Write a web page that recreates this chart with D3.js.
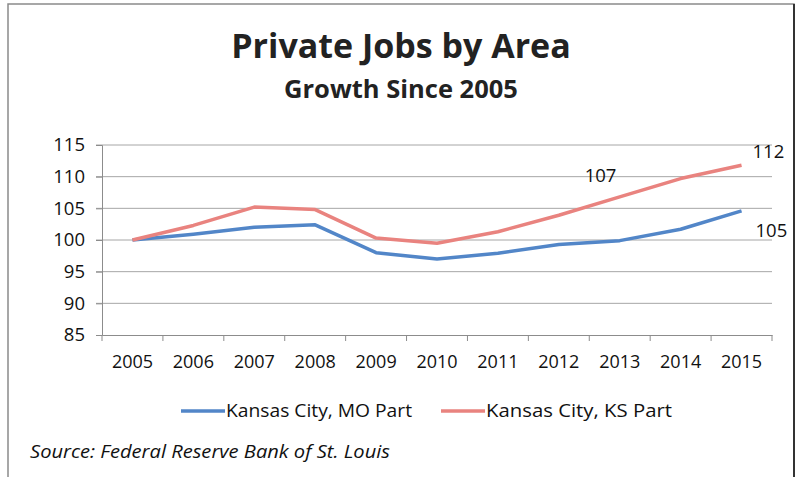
<!DOCTYPE html>
<html><head><meta charset="utf-8">
<script src="https://cdn.jsdelivr.net/npm/d3@7"></script>
<style>
html,body{margin:0;padding:0;background:#fff;}
svg{display:block;}
</style></head>
<body>
<svg id="chart" width="801" height="477"></svg>
<script>
const years = ["2005","2006","2007","2008","2009","2010","2011","2012","2013","2014","2015"];
const moPart = [100, 100.9, 102.0, 102.4, 98.0, 97.0, 97.9, 99.3, 99.9, 101.7, 104.6];
const ksPart = [100, 102.3, 105.2, 104.8, 100.3, 99.5, 101.3, 103.9, 106.8, 109.7, 111.8];
const yTicks = [85, 90, 95, 100, 105, 110, 115];
const seriesNames = ["Kansas City, MO Part", "Kansas City, KS Part"];
const callouts = [
  {series: 1, index: 10, text: "112"},
  {series: 1, index: 8, text: "107"},
  {series: 0, index: 10, text: "105"}
];

const colors = ["#5286c8", "#e9837f"];
const font = "'Open Sans', Lato, sans-serif";
const svg = d3.select("#chart");

// frame
svg.append("path").attr("d", "M8,480 L8,4 L794,4 L794,480")
  .attr("fill", "none").attr("stroke", "#8a8a8a").attr("stroke-width", 1.5);
svg.append("line").attr("x1", 794).attr("x2", 794).attr("y1", 4).attr("y2", 480)
  .attr("stroke", "#333").attr("stroke-width", 2);

const x = d3.scaleBand().domain(years).range([102, 772]);
const y = d3.scaleLinear().domain([85, 115]).range([335, 145]);

// gridlines
svg.append("g").selectAll("line").data(yTicks.filter(t => t > 85)).join("line")
  .attr("x1", 96).attr("x2", 772)
  .attr("y1", d => y(d)).attr("y2", d => y(d))
  .attr("stroke", "#a6a6a6").attr("stroke-width", 1);

// y axis
const yAxis = d3.axisLeft(y).tickValues(yTicks).tickSize(6).tickPadding(11);
const gy = svg.append("g").attr("transform", "translate(102,0)").call(yAxis);
gy.select(".domain").attr("stroke", "#8c8c8c");
gy.selectAll(".tick line").attr("stroke", "#8c8c8c");
gy.selectAll("text").attr("font-family", font).attr("font-size", 18.5).attr("fill", "#111");

// x axis
const xAxis = d3.axisBottom(x).tickSize(0).tickPadding(20);
const gx = svg.append("g").attr("transform", "translate(0,335)").call(xAxis);
gx.select(".domain").attr("stroke", "#8c8c8c");
gx.selectAll("text").attr("font-family", font).attr("font-size", 18).attr("fill", "#111");
// category boundary ticks
svg.append("g").selectAll("line").data(years.concat(["end"])).join("line")
  .attr("x1", (d, i) => 102 + i * x.step()).attr("x2", (d, i) => 102 + i * x.step())
  .attr("y1", 335).attr("y2", 341).attr("stroke", "#8c8c8c");

// lines
const line = d3.line().x((d, i) => x(years[i]) + x.bandwidth() / 2).y(d => y(d));
[moPart, ksPart].forEach((s, k) => {
  svg.append("path").datum(s).attr("d", line)
    .attr("fill", "none").attr("stroke", colors[k]).attr("stroke-width", 3.5)
    .attr("stroke-linejoin", "round");
});

// callouts
const seriesArr = [moPart, ksPart];
const offsets = {"112": [11, -7], "107": [-35, -15], "105": [14, 26]};
callouts.forEach(c => {
  const v = seriesArr[c.series][c.index];
  const o = offsets[c.text];
  svg.append("text")
    .attr("x", x(years[c.index]) + x.bandwidth() / 2 + o[0])
    .attr("y", y(v) + o[1])
    .attr("font-family", font).attr("font-size", 18.5).attr("fill", "#111")
    .text(c.text);
});

// titles
svg.append("text").attr("x", 401).attr("y", 58).attr("text-anchor", "middle")
  .attr("font-family", font).attr("font-weight", "bold").attr("font-size", 34).attr("fill", "#222")
  .text("Private Jobs by Area");
svg.append("text").attr("x", 401).attr("y", 98).attr("text-anchor", "middle")
  .attr("font-family", font).attr("font-weight", "bold").attr("font-size", 25.5).attr("fill", "#222")
  .text("Growth Since 2005");

// legend
const legX = [181, 441];
const legW = [186, 186];
seriesNames.forEach((n, k) => {
  svg.append("line").attr("x1", legX[k]).attr("x2", legX[k] + 44).attr("y1", 411).attr("y2", 411)
    .attr("stroke", colors[k]).attr("stroke-width", 3.5);
  svg.append("text").attr("x", legX[k] + 45).attr("y", 417)
    .attr("font-family", font).attr("font-size", 17.5).attr("fill", "#111")
    .attr("textLength", legW[k]).attr("lengthAdjust", "spacingAndGlyphs")
    .text(n);
});

// source
svg.append("text").attr("x", 30).attr("y", 458)
  .attr("font-family", font).attr("font-style", "italic").attr("font-size", 17.5).attr("fill", "#111")
  .attr("textLength", 360).attr("lengthAdjust", "spacingAndGlyphs")
  .text("Source: Federal Reserve Bank of St. Louis");
</script>
</body></html>
